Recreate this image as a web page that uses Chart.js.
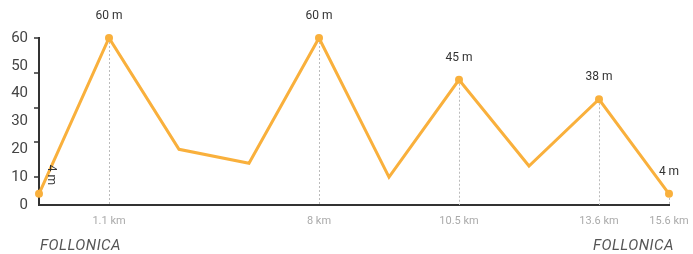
<!DOCTYPE html>
<html>
<head>
<meta charset="utf-8">
<script src="https://cdn.jsdelivr.net/npm/chart.js@4"></script>
<style>
  html, body { margin: 0; padding: 0; background: #fff; }
  #wrap { width: 693px; height: 254px; position: relative; }
</style>
</head>
<body>
<div id="wrap"><canvas id="profile"></canvas></div>
<script>
// altimetric profile, one point per segment
const distLabels = ['', '1.1 km', '', '', '8 km', '', '10.5 km', '', '13.6 km', '15.6 km'];
const elevation = [4, 60, 20, 15, 60, 10, 45, 14, 38, 4];
const peakLabels = ['4 m', '60 m', '', '', '60 m', '', '45 m', '', '38 m', '4 m'];
const places = ['FOLLONICA', 'FOLLONICA'];
// the little marks on the y axis don't sit on the labelled values
const yMarks = [10, 22.5, 35, 47.5, 60];

const orange = '#f9b03c';
const fontName = 'Roboto, "DejaVu Sans", sans-serif';

// dotted drops, value labels, axis marks and place names
const decorations = {
  id: 'decorations',
  afterDatasetsDraw(chart) {
    const ctx = chart.ctx;
    const area = chart.chartArea;
    const yScale = chart.scales.y;
    const pts = chart.getDatasetMeta(0).data;
    ctx.save();
    ctx.strokeStyle = '#333';
    ctx.lineWidth = 1.5;
    yMarks.forEach(v => {
      const y = Math.round(yScale.getPixelForValue(v));
      ctx.beginPath();
      ctx.moveTo(area.left - 5, y);
      ctx.lineTo(area.left, y);
      ctx.stroke();
    });
    ctx.strokeStyle = '#bbbbbb';
    ctx.lineWidth = 1;
    ctx.setLineDash([2, 2]);
    pts.forEach((p, i) => {
      if (!peakLabels[i] || i === 0) return;
      ctx.beginPath();
      ctx.moveTo(Math.round(p.x) + 0.5, p.y + 4);
      ctx.lineTo(Math.round(p.x) + 0.5, area.bottom);
      ctx.stroke();
    });
    ctx.setLineDash([]);
    ctx.fillStyle = '#333';
    ctx.font = '12px ' + fontName;
    ctx.textAlign = 'center';
    ctx.textBaseline = 'middle';
    pts.forEach((p, i) => {
      if (!peakLabels[i]) return;
      if (i === 0) {
        ctx.save();
        ctx.translate(p.x + 12, p.y - 19);
        ctx.rotate(Math.PI / 2);
        ctx.fillText(peakLabels[i], 0, 0);
        ctx.restore();
      } else {
        ctx.fillText(peakLabels[i], p.x, p.y - 22);
      }
    });
    ctx.fillStyle = '#555';
    ctx.font = 'italic 15px ' + fontName;
    ctx.letterSpacing = '0.5px';
    ctx.textAlign = 'left';
    ctx.fillText(places[0], area.left + 1, 246);
    ctx.textAlign = 'right';
    ctx.fillText(places[1], area.right + 5, 246);
    ctx.restore();
  }
};

new Chart(document.getElementById('profile'), {
  type: 'line',
  data: {
    labels: distLabels,
    datasets: [{
      data: elevation,
      borderColor: orange,
      backgroundColor: orange,
      borderWidth: 3,
      tension: 0,
      clip: false,
      pointRadius: peakLabels.map(l => l ? 4 : 0),
      pointBorderWidth: 0,
      pointHoverRadius: 4
    }]
  },
  options: {
    responsive: true,
    maintainAspectRatio: false,
    animation: false,
    layout: { padding: { top: 38, right: 24, left: 0, bottom: 0 } },
    plugins: { legend: { display: false }, tooltip: { enabled: false } },
    scales: {
      x: {
        grid: { display: false },
        border: { display: true, color: '#333', width: 2 },
        ticks: {
          autoSkip: false, maxRotation: 0, padding: 2,
          color: '#aaaaaa', font: { size: 11, family: fontName }
        },
        afterFit(scale) {
          scale.height = 49;
          scale.paddingLeft = 0;
          scale.paddingRight = 0;
        }
      },
      y: {
        min: 0, max: 60,
        grid: { drawOnChartArea: false, drawTicks: true, tickLength: 5, color: 'rgba(0,0,0,0)' },
        border: { display: true, color: '#333', width: 2 },
        ticks: {
          stepSize: 10, padding: 6,
          color: '#444', font: { size: 15, family: fontName }
        },
        afterFit(scale) { scale.width = 39; }
      }
    }
  },
  plugins: [decorations]
});
</script>
</body>
</html>
